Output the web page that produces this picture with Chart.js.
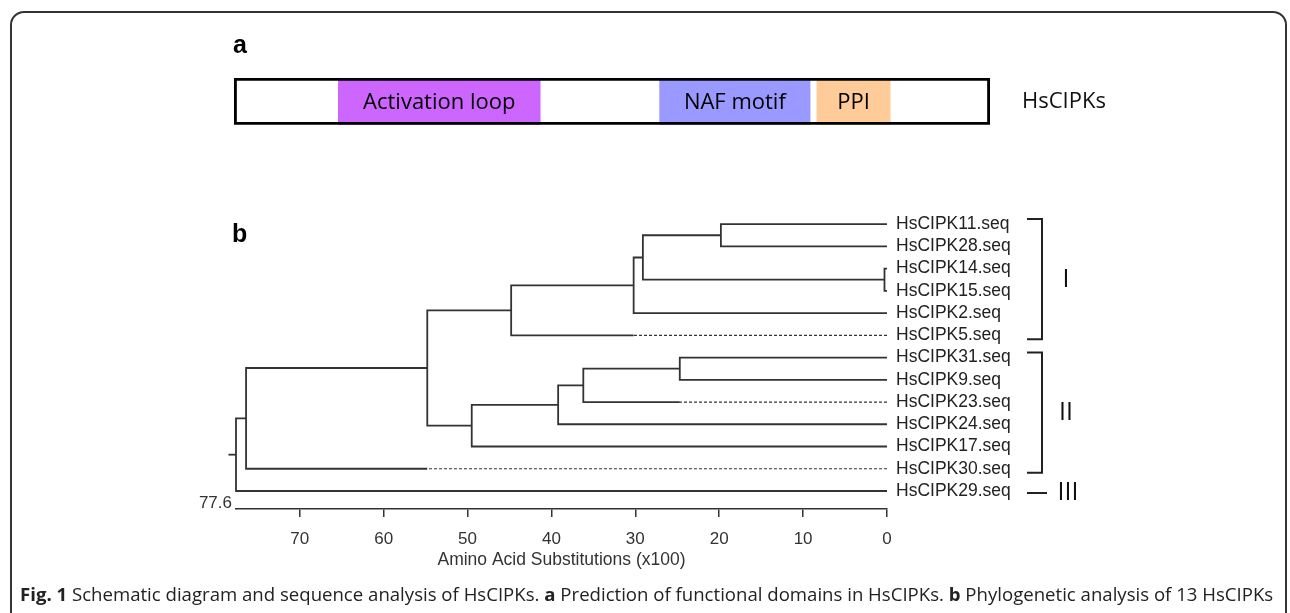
<!DOCTYPE html>
<html>
<head>
<meta charset="utf-8">
<script src="https://cdn.jsdelivr.net/npm/chart.js@4.4.1/dist/chart.umd.min.js"></script>
<style>
body { margin: 0; background: #fff; width: 1290px; height: 613px; overflow: hidden; position: relative; font-family: "Liberation Sans", Arial, sans-serif; }
#cornice { position: absolute; left: 10px; top: 11px; width: 1277px; height: 625px; border: 2px solid #333; border-radius: 14px; box-sizing: border-box; }
canvas { position: absolute; left: 0; top: 0; }
.pannello { position: absolute; font-weight: bold; font-size: 25px; line-height: 1; color: #000; }
#didascalia { position: absolute; left: 20px; top: 585px; font-family: "Open Sans", sans-serif; font-size: 18.6px; line-height: 1; color: #222; white-space: nowrap; }
</style>
</head>
<body>
<div id="cornice"></div>
<canvas id="dominio" width="1290" height="170"></canvas>
<canvas id="albero" width="1290" height="613"></canvas>
<div class="pannello" style="left:233px; top:32px">a</div>
<div class="pannello" style="left:232px; top:221px">b</div>
<div id="didascalia"><b>Fig. 1</b> Schematic diagram and sequence analysis of HsCIPKs. <b>a</b> Prediction of functional domains in HsCIPKs. <b>b</b> Phylogenetic analysis of 13 HsCIPKs</div>

<script>
// pannello a: domini (posizione relativa lungo la proteina, 0-100)
var proteina = 'HsCIPKs';
var domini = ['Activation loop', 'NAF motif', 'PPI'];
var inizioDomini = [13.8, 56.3, 77.1];
var fineDomini = [40.5, 76.2, 86.8];
var coloriDomini = ['#CC66FF', '#9999FF', '#FFCC99'];

// pannello b: albero (Amino Acid Substitutions x100)
var foglie = ['HsCIPK11.seq', 'HsCIPK28.seq', 'HsCIPK14.seq', 'HsCIPK15.seq', 'HsCIPK2.seq', 'HsCIPK5.seq',
    'HsCIPK31.seq', 'HsCIPK9.seq', 'HsCIPK23.seq', 'HsCIPK24.seq', 'HsCIPK17.seq', 'HsCIPK30.seq', 'HsCIPK29.seq'];
// da dove parte il tratteggio del ramo terminale (0 = nessuno)
var tratteggioDa = [0, 0, 0, 0, 0, 30.2, 0, 0, 24.7, 0, 0, 54.8, 0];
// nodi interni: figli = indice foglia oppure 'n' + indice nodo
var figliNodi = [[0, 1], [2, 3], ['n0', 'n1'], ['n2', 4], ['n3', 5], [6, 7], ['n5', 8], ['n6', 9], ['n7', 10], ['n4', 'n8'], ['n9', 11], ['n10', 12]];
var altezzeNodi = [19.8, 0.3, 29.1, 30.2, 44.8, 24.7, 36.2, 39.2, 49.5, 54.8, 76.4, 77.6];
var tickAsse = [70, 60, 50, 40, 30, 20, 10, 0];
var maxAsse = 77.6;
var gruppi = ['I', 'II', 'III'];
var primaFoglia = [0, 6, 12];
var ultimaFoglia = [5, 11, 12];

Chart.defaults.font.family = '"Liberation Sans", Arial, sans-serif';
Chart.defaults.animation = false;

var testoDomini = {
    id: 'testoDomini',
    afterDatasetsDraw: function(chart) {
        var ctx = chart.ctx;
        ctx.save();
        ctx.fillStyle = '#000';
        ctx.font = '22px "Open Sans"';
        ctx.textAlign = 'center';
        ctx.textBaseline = 'middle';
        for (var i = 0; i < domini.length; i++) {
            var el = chart.getDatasetMeta(i + 1).data[0];
            ctx.fillText(domini[i], (el.x + el.base) / 2, el.y + 1);
        }
        ctx.restore();
    }
};

var dsDomini = [{
    label: proteina,
    data: [[0, 100]],
    backgroundColor: 'rgba(0,0,0,0)',
    borderColor: '#000',
    borderWidth: 2.5,
    borderSkipped: false,
    order: 0
}];
for (var i = 0; i < domini.length; i++) {
    dsDomini.push({
        label: domini[i],
        data: [[inizioDomini[i], fineDomini[i]]],
        backgroundColor: coloriDomini[i],
        borderWidth: 0,
        order: 1
    });
}

new Chart(document.getElementById('dominio'), {
    type: 'bar',
    data: { labels: [proteina], datasets: dsDomini },
    options: {
        indexAxis: 'y',
        responsive: false,
        datasets: { bar: { grouped: false, barPercentage: 1, categoryPercentage: 1 } },
        layout: { padding: { left: 234, top: 78, right: 0, bottom: 38 } },
        plugins: { legend: { display: false }, tooltip: { enabled: false } },
        scales: {
            x: { display: false, min: 0, max: 100 },
            y: {
                position: 'right',
                grid: { display: false, drawTicks: false },
                border: { display: false },
                ticks: { padding: 32, color: '#111', font: { family: '"Open Sans"', size: 22 } },
                afterFit: function(s) { s.width = 300; }
            }
        }
    },
    plugins: [testoDomini]
});

// posizioni dei nodi
function riferimento(r) {
    if (typeof r === 'number') return { h: tratteggioDa[r], y: r };
    var k = parseInt(r.slice(1));
    return { h: altezzeNodi[k], y: yNodi[k] };
}
var yNodi = [];
for (var k = 0; k < figliNodi.length; k++) {
    var a = riferimento(figliNodi[k][0]);
    var b = riferimento(figliNodi[k][1]);
    yNodi.push((a.y + b.y) / 2);
}

var dsAlbero = [];
for (var k = 0; k < figliNodi.length; k++) {
    var a = riferimento(figliNodi[k][0]);
    var b = riferimento(figliNodi[k][1]);
    var h = altezzeNodi[k];
    dsAlbero.push({
        data: [{ x: a.h, y: a.y }, { x: h, y: a.y }, { x: h, y: b.y }, { x: b.h, y: b.y }],
        borderColor: '#333', borderWidth: 1.8, borderDash: []
    });
}
for (var i = 0; i < foglie.length; i++) {
    if (tratteggioDa[i] > 0) {
        dsAlbero.push({
            data: [{ x: 0, y: i }, { x: tratteggioDa[i], y: i }],
            borderColor: '#333', borderWidth: 1.2, borderDash: [3, 2]
        });
    }
}
var radice = figliNodi.length - 1;
dsAlbero.push({
    data: [{ x: altezzeNodi[radice], y: yNodi[radice] }, { x: altezzeNodi[radice] + 0.9, y: yNodi[radice] }],
    borderColor: '#333', borderWidth: 1.8, borderDash: []
});

var extraAlbero = {
    id: 'extraAlbero',
    afterDraw: function(chart) {
        var ctx = chart.ctx;
        var xs = chart.scales.x;
        var ys = chart.scales.y;
        ctx.save();
        ctx.fillStyle = '#333';
        ctx.font = '17px "Liberation Sans"';
        ctx.textAlign = 'right';
        ctx.textBaseline = 'middle';
        ctx.fillText(maxAsse.toFixed(1), xs.getPixelForValue(maxAsse) - 4, chart.chartArea.bottom - 6);

        ctx.strokeStyle = '#222';
        ctx.fillStyle = '#111';
        ctx.lineWidth = 2;
        ctx.font = '25px "Open Sans"';
        ctx.textAlign = 'center';
        for (var g = 0; g < gruppi.length; g++) {
            var y1 = ys.getPixelForValue(primaFoglia[g]);
            var y2 = ys.getPixelForValue(ultimaFoglia[g]);
            ctx.beginPath();
            if (primaFoglia[g] === ultimaFoglia[g]) {
                ctx.moveTo(1027, y1 + 2);
                ctx.lineTo(1047, y1 + 2);
                ctx.stroke();
                ctx.fillText(gruppi[g], 1068, y1 + 2);
            } else {
                ctx.moveTo(1027, y1 - 5);
                ctx.lineTo(1042, y1 - 5);
                ctx.lineTo(1042, y2 + 4);
                ctx.lineTo(1027, y2 + 4);
                ctx.stroke();
                ctx.fillText(gruppi[g], 1066, (y1 + y2) / 2);
            }
        }
        ctx.restore();
    }
};

new Chart(document.getElementById('albero'), {
    type: 'scatter',
    data: { datasets: dsAlbero },
    options: {
        responsive: false,
        showLine: true,
        elements: { point: { radius: 0 }, line: { tension: 0 } },
        datasets: { scatter: { clip: false } },
        layout: { padding: { left: 236, top: 213, right: 0, bottom: 0 } },
        plugins: { legend: { display: false }, tooltip: { enabled: false } },
        scales: {
            x: {
                type: 'linear', reverse: true, min: 0, max: maxAsse,
                afterBuildTicks: function(s) { s.ticks = tickAsse.map(function(v) { return { value: v }; }); },
                ticks: { padding: 12, color: '#333', font: { size: 17 } },
                grid: { drawOnChartArea: false, drawTicks: true, tickLength: 8, color: '#333', lineWidth: 1.5 },
                border: { display: true, color: '#333', width: 1.5 },
                title: { display: true, text: 'Amino Acid Substitutions (x100)', color: '#333', font: { size: 17.5 }, padding: { top: 0, bottom: 42 } },
                afterFit: function(s) { s.height = 104; }
            },
            y: {
                type: 'linear', position: 'right', reverse: true, min: -0.5, max: 12.81,
                afterBuildTicks: function(s) { s.ticks = foglie.map(function(n, i) { return { value: i }; }); },
                ticks: { padding: 9, color: '#222', autoSkip: false, font: { size: 17.5 },
                    callback: function(v) { return foglie[v]; } },
                grid: { display: false, drawTicks: false },
                border: { display: false },
                afterFit: function(s) { s.width = 403; }
            }
        }
    },
    plugins: [extraAlbero]
});
</script>
</body>
</html>
